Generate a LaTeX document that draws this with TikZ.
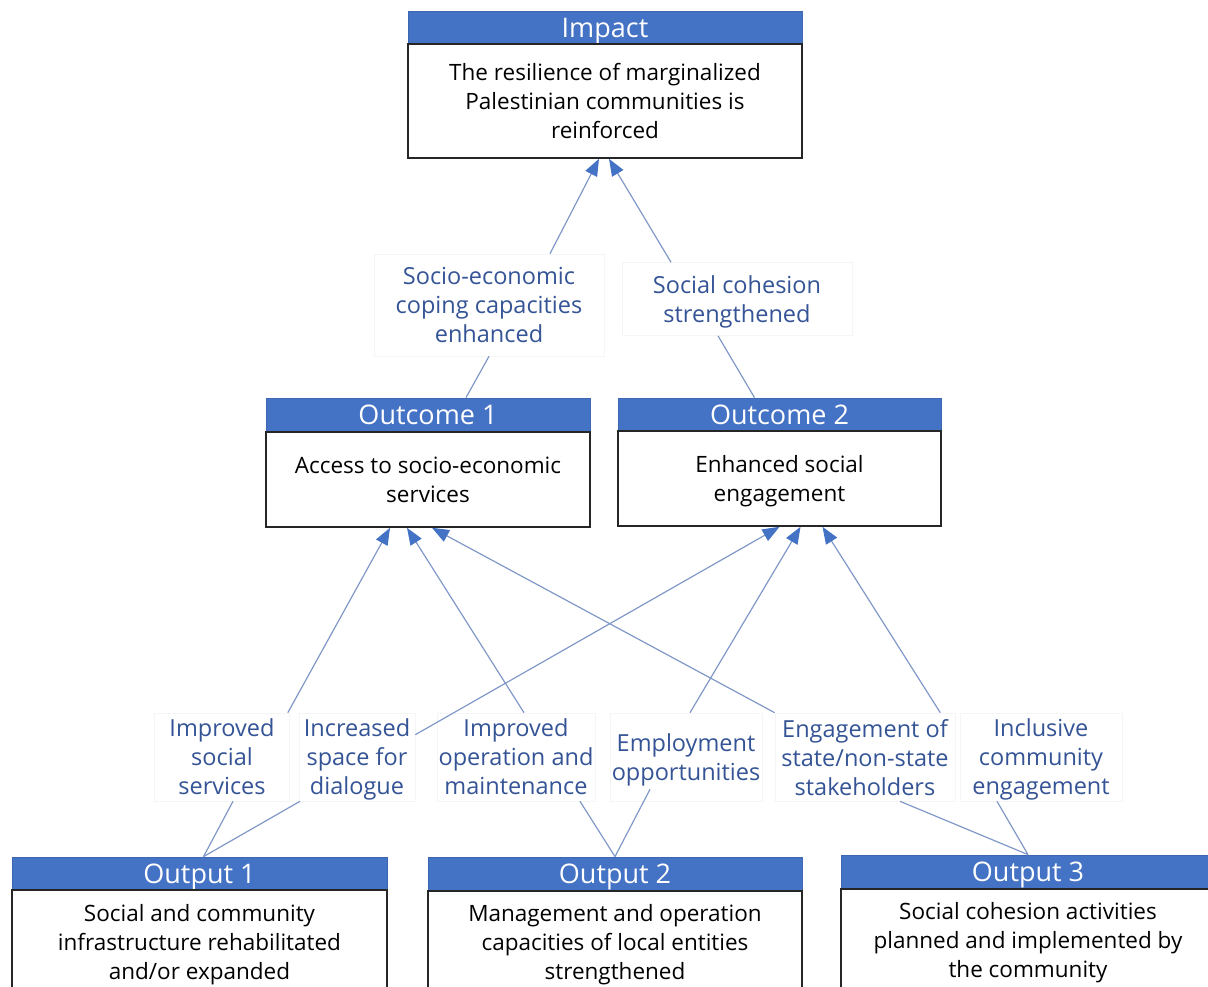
\documentclass[tikz,border=0pt]{standalone}
\usepackage{fontspec}
\setmainfont{Open Sans}
\usetikzlibrary{arrows.meta,calc}
\definecolor{hdr}{RGB}{68,114,196}
\definecolor{lblc}{RGB}{52,84,150}
\definecolor{lnc}{RGB}{128,152,200}
\begin{document}
\begin{tikzpicture}[x=1pt,y=-1pt,
  hd/.style={fill=hdr,draw=hdr!90!black,line width=0.8pt,text=white,inner sep=0pt,text height=19.3pt,text depth=0pt,font=\fontsize{27}{30}\selectfont},
  bd/.style={fill=white,draw=black!85,line width=1.6pt,inner sep=0pt,align=center,text depth=0pt,font=\fontsize{22.5}{29}\selectfont},
  lb/.style={draw=black!4,line width=0.6pt,fill=white,inner sep=0pt,align=center,text depth=0pt,text=lblc,font=\fontsize{23.5}{29}\selectfont},
  ln/.style={draw=lnc,line width=1.2pt},
  ar/.style={ln,-{Triangle[length=17pt,width=13pt,fill=hdr,color=hdr]}}
]
\useasboundingbox (0,0) rectangle (1208,986);
\clip (0,0) rectangle (1208,986);

% Impact
\node[hd,minimum width=394pt,minimum height=33pt] (impH) at (605,27.5) {Impact};
\node[bd,minimum width=394pt,minimum height=114pt] (imp) at (605,101) {The resilience of marginalized\\Palestinian communities is\\reinforced};

% Outcomes
\node[hd,minimum width=324pt,minimum height=34pt] (o1H) at (428,415) {Outcome 1};
\node[bd,minimum width=324pt,minimum height=95pt] (o1) at (428,479.5) {Access to socio-economic\\services};
\node[hd,minimum width=323pt,minimum height=33pt] (o2H) at (779.5,414.5) {Outcome 2};
\node[bd,minimum width=323pt,minimum height=95pt] (o2) at (779.5,478.5) {Enhanced social\\engagement};

% Outputs
\node[hd,minimum width=375pt,minimum height=33pt] (u1H) at (199.5,873.5) {Output 1};
\node[bd,minimum width=375pt,minimum height=104pt] (u1) at (199.5,942) {Social and community\\infrastructure rehabilitated\\and/or expanded};
\node[hd,minimum width=374pt,minimum height=34pt] (u2H) at (615,874) {Output 2};
\node[bd,minimum width=374pt,minimum height=102pt] (u2) at (615,942) {Management and operation\\capacities of local entities\\strengthened};
\node[hd,minimum width=374pt,minimum height=34pt] (u3H) at (1028,872) {Output 3};
\node[bd,minimum width=374pt,minimum height=102pt] (u3) at (1028,940) {Social cohesion activities\\planned and implemented by\\the community};

% Labels
\node[lb,minimum width=230pt,minimum height=102pt] (se) at (489,305) {Socio-economic\\coping capacities\\enhanced};
\node[lb,minimum width=230pt,minimum height=73pt] (sc) at (737,299) {Social cohesion\\strengthened};
\node[lb,minimum width=135pt,minimum height=88pt] (iss) at (222,757) {Improved\\social\\services};
\node[lb,minimum width=116pt,minimum height=88pt] (isd) at (357,757) {Increased\\space for\\dialogue};
\node[lb,minimum width=158pt,minimum height=88pt] (iom) at (516,757) {Improved\\operation and\\maintenance};
\node[lb,minimum width=152pt,minimum height=88pt] (emp) at (686,757) {Employment\\opportunities};
\node[lb,minimum width=180pt,minimum height=88pt] (eng) at (865,757) {Engagement of\\state/non-state\\stakeholders};
\node[lb,minimum width=162pt,minimum height=88pt] (inc) at (1041,757) {Inclusive\\community\\engagement};

% Connectors to Impact
\draw[ar] ([xshift=61pt]se.north) -- ([xshift=-6pt]imp.south);
\draw[ar] ([xshift=-66pt]sc.north) -- ([xshift=4pt]imp.south);
\draw[ln] ([xshift=38pt]o1H.north) -- (se.south);
\draw[ln] ([xshift=-25pt]o2H.north) -- ([xshift=-19pt]sc.south);

% Connectors to Outcome 1
\draw[ar] ([xshift=-2pt]iss.north east) -- ([xshift=-38pt]o1.south);
\draw[ar] ([xshift=8pt]iom.north) -- ([xshift=-21pt]o1.south);
\draw[ar] (eng.north west) -- ([xshift=4pt]o1.south);

% Connectors to Outcome 2
\draw[ar] ([yshift=-22pt]isd.north east) -- (o2.south);
\draw[ar] ([xshift=4pt]emp.north) -- ([xshift=21pt]o2.south);
\draw[ar] ([xshift=-15pt]eng.north east) -- ([xshift=43pt]o2.south);

% Outputs to labels
\draw[ln] ([xshift=4pt]u1H.north) -- ([xshift=11pt]iss.south);
\draw[ln] ([xshift=4pt]u1H.north) -- ([xshift=-57pt]isd.south);
\draw[ln] (u2H.north) -- ([xshift=64pt]iom.south);
\draw[ln] (u2H.north) -- ([xshift=-36pt,yshift=12pt]emp.south);
\draw[ln] (u3H.north) -- ([xshift=35pt]eng.south);
\draw[ln] (u3H.north) -- ([xshift=-44pt]inc.south);
\end{tikzpicture}
\end{document}
